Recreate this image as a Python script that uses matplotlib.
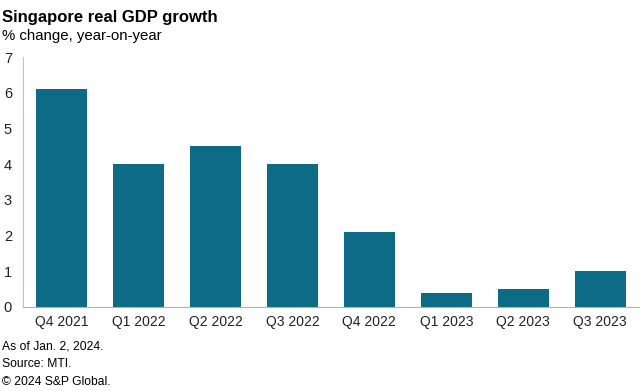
import matplotlib
matplotlib.use("Agg")
import matplotlib.pyplot as plt

quarters = ["Q4 2021", "Q1 2022", "Q2 2022", "Q3 2022", "Q4 2022", "Q1 2023", "Q2 2023", "Q3 2023"]
growth = [6.1, 4.0, 4.5, 4.0, 2.1, 0.4, 0.5, 1.0]
yticks = [0, 1, 2, 3, 4, 5, 6, 7]

plt.rcParams["font.family"] = ["Liberation Sans", "DejaVu Sans"]

fig = plt.figure(figsize=(6.4, 3.91), dpi=100)
ax = fig.add_axes([0.036, 0.215, 0.962, 0.639])

ax.bar(range(len(quarters)), growth, width=0.66, color="#0d6b86")
ax.set_xlim(-0.5, len(quarters) - 0.5)
ax.set_ylim(0, 7)
ax.set_yticks(yticks)
ax.set_xticks(range(len(quarters)))
ax.set_xticklabels(quarters)
ax.tick_params(axis="both", length=0, labelsize=10, colors="#222222")
ax.tick_params(axis="y", pad=8, labelsize=10.5)
ax.tick_params(axis="x", pad=6)
ax.spines["top"].set_visible(False)
ax.spines["right"].set_visible(False)
ax.spines["left"].set_color("#c8c4a0")
ax.spines["bottom"].set_color("#b0b0b0")

fig.text(0.003, 0.975, "Singapore real GDP growth", fontsize=12, fontweight="bold", va="top")
fig.text(0.003, 0.925, "% change, year-on-year", fontsize=10.8, va="top")
fig.text(0.003, 0.115, "As of Jan. 2, 2024.", fontsize=8.7, va="center")
fig.text(0.003, 0.069, "Source: MTI.", fontsize=8.7, va="center")
fig.text(0.003, 0.023, "\u00a9 2024 S&P Global.", fontsize=8.7, va="center")

fig.savefig("out.png", dpi=100)
